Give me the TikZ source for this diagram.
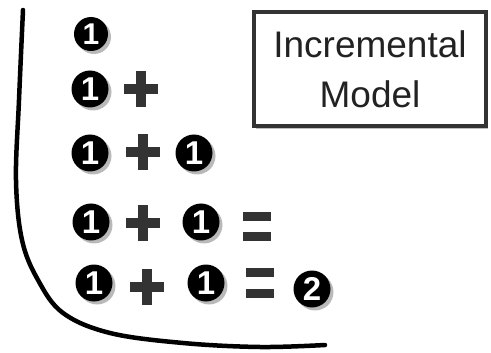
\documentclass[tikz,border=0pt]{standalone}
\usepackage{fontspec}
\setmainfont{Liberation Sans}
\setsansfont{Liberation Sans}
\usetikzlibrary{shadows}
\definecolor{ink}{HTML}{333333}
\definecolor{textink}{HTML}{222222}
\tikzset{
  num/.style={circle, fill=black, text=white, inner sep=0pt, minimum size=#1,
    font=\fontsize{33}{33}\selectfont\bfseries,
    drop shadow={shadow xshift=3pt, shadow yshift=-3pt, fill=gray, opacity=.55}},
  num/.default=37pt,
  glyph/.style={fill=ink},
}
\newcommand{\plussign}[2]{%
  \fill[glyph] (#1-17,#2-5) rectangle (#1+17,#2+5);
  \fill[glyph] (#1-5,#2-18) rectangle (#1+5,#2+18);}
\newcommand{\eqsign}[3]{%
  \fill[glyph] (#1,#2) rectangle (#1+28,#2+9);
  \fill[glyph] (#1,#3) rectangle (#1+28,#3+9);}
\begin{document}
\begin{tikzpicture}[x=1pt,y=-1pt]
\useasboundingbox (0,0) rectangle (491,353);
% curve
\draw[line width=4.5pt, line cap=round] plot[smooth, tension=0.6] coordinates
  {(23,10) (19,100) (16,180) (22,240) (38,280) (63,313) (110,333) (183,343) (260,347) (325,345)};
% box
\node[draw=ink, line width=4pt, minimum width=232pt, minimum height=114pt,
  fill=white, text=textink, align=center, font=\fontsize{37}{50}\selectfont,
  drop shadow={shadow xshift=2pt, shadow yshift=-3pt, fill=gray, opacity=.5}]
  (box) at (370,69) {Incremental\\Model};
% row 1
\node[num=34pt, font=\fontsize{30}{30}\selectfont\bfseries] (a1) at (91,34) {1};
% row 2
\node[num] (b1) at (90,89) {1};
\plussign{141}{89}
% row 3
\node[num] (c1) at (90,153) {1};
\plussign{143}{152}
\node[num] (c2) at (194,153) {1};
% row 4
\node[num] (d1) at (91,222) {1};
\plussign{143}{223}
\node[num] (d2) at (201,222) {1};
\eqsign{243}{212}{232}
% row 5
\node[num] (e1) at (94,283) {1};
\plussign{147}{287}
\node[num] (e2) at (206,283) {1};
\eqsign{246}{268}{289}
\node[num] (e3) at (312,289) {2};
\end{tikzpicture}
\end{document}
